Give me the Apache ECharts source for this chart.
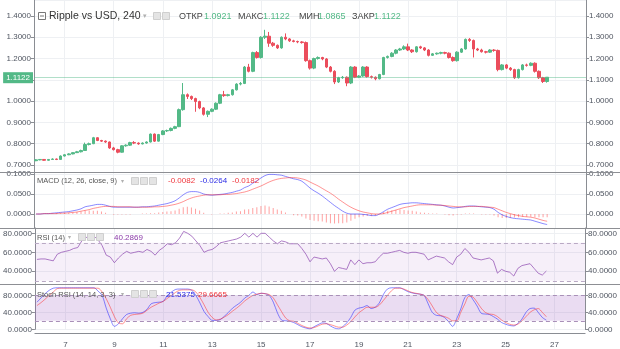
<!DOCTYPE html>
<html><head><meta charset="utf-8">
<script src="https://cdn.jsdelivr.net/npm/echarts@6/dist/echarts.min.js"></script>
<style>html,body{margin:0;padding:0;background:#fff}#c{width:620px;height:349px}</style>
</head><body><div id="c"></div>
<script>
// ---- data ----
const startDay = 5, startHour = 20, stepHours = 4, slotCount = 135;
const xTickLabels = ['7','9','11','13','15','17','19','21','23','25','27'];
// [open, close, low, high]
const ohlc = [
[0.720,0.724,0.718,0.727],[0.724,0.726,0.722,0.728],[0.726,0.722,0.720,0.728],[0.722,0.726,0.720,0.728],
[0.726,0.728,0.724,0.731],[0.728,0.726,0.723,0.730],[0.726,0.742,0.725,0.745],[0.742,0.748,0.740,0.751],
[0.748,0.752,0.746,0.755],[0.752,0.758,0.750,0.760],[0.758,0.762,0.756,0.766],[0.762,0.768,0.759,0.772],
[0.768,0.796,0.766,0.805],[0.796,0.800,0.792,0.805],[0.800,0.828,0.798,0.832],[0.828,0.815,0.812,0.830],
[0.815,0.812,0.808,0.818],[0.812,0.808,0.804,0.815],[0.808,0.780,0.776,0.810],[0.780,0.772,0.768,0.785],
[0.772,0.760,0.755,0.776],[0.760,0.790,0.758,0.793],[0.790,0.793,0.786,0.797],[0.793,0.805,0.790,0.809],
[0.805,0.803,0.798,0.812],[0.803,0.799,0.795,0.806],[0.799,0.803,0.797,0.806],[0.803,0.808,0.800,0.811],
[0.808,0.845,0.806,0.848],[0.845,0.812,0.808,0.848],[0.812,0.843,0.810,0.846],[0.843,0.860,0.840,0.864],
[0.860,0.862,0.855,0.866],[0.862,0.872,0.858,0.876],[0.872,0.880,0.868,0.884],[0.880,0.960,0.878,0.965],
[0.960,1.030,0.955,1.085],[1.030,1.022,1.010,1.036],[1.022,1.012,1.005,1.026],[1.012,0.998,0.950,1.016],
[0.998,0.968,0.962,1.002],[0.968,0.938,0.932,0.972],[0.938,0.952,0.925,0.956],[0.952,0.962,0.948,0.966],
[0.962,0.990,0.958,0.994],[0.990,1.030,0.986,1.034],[1.030,1.026,1.020,1.048],[1.026,1.030,1.022,1.034],
[1.030,1.053,1.026,1.057],[1.053,1.080,1.050,1.084],[1.080,1.083,1.074,1.090],[1.083,1.160,1.080,1.165],
[1.160,1.140,1.135,1.175],[1.140,1.228,1.136,1.232],[1.228,1.205,1.200,1.235],[1.205,1.300,1.200,1.305],
[1.300,1.305,1.292,1.335],[1.305,1.272,1.255,1.325],[1.272,1.262,1.255,1.278],[1.262,1.250,1.245,1.266],
[1.250,1.300,1.246,1.304],[1.300,1.292,1.286,1.318],[1.292,1.283,1.278,1.296],[1.283,1.280,1.276,1.288],
[1.280,1.278,1.272,1.284],[1.278,1.275,1.270,1.282],[1.275,1.190,1.185,1.280],[1.190,1.155,1.148,1.195],
[1.155,1.200,1.150,1.204],[1.200,1.205,1.195,1.210],[1.205,1.198,1.192,1.208],[1.198,1.160,1.155,1.202],
[1.160,1.140,1.135,1.165],[1.140,1.090,1.080,1.145],[1.090,1.110,1.085,1.114],[1.110,1.112,1.105,1.118],
[1.112,1.085,1.070,1.116],[1.085,1.160,1.080,1.164],[1.160,1.112,1.108,1.164],[1.112,1.118,1.108,1.122],
[1.118,1.160,1.114,1.164],[1.160,1.115,1.110,1.164],[1.115,1.112,1.106,1.120],[1.112,1.105,1.098,1.116],
[1.105,1.125,1.102,1.128],[1.125,1.205,1.122,1.208],[1.205,1.210,1.200,1.214],[1.210,1.225,1.206,1.230],
[1.225,1.240,1.220,1.244],[1.240,1.245,1.236,1.250],[1.245,1.255,1.240,1.262],[1.255,1.240,1.235,1.270],
[1.240,1.232,1.226,1.244],[1.232,1.255,1.228,1.258],[1.255,1.250,1.245,1.260],[1.250,1.240,1.235,1.254],
[1.240,1.215,1.210,1.244],[1.215,1.222,1.212,1.226],[1.222,1.225,1.218,1.228],[1.225,1.228,1.220,1.232],
[1.228,1.225,1.220,1.232],[1.225,1.205,1.200,1.229],[1.205,1.190,1.185,1.210],[1.190,1.230,1.186,1.234],
[1.230,1.245,1.226,1.249],[1.245,1.290,1.242,1.294],[1.290,1.285,1.278,1.296],[1.285,1.245,1.205,1.289],
[1.245,1.240,1.235,1.250],[1.240,1.232,1.228,1.246],[1.232,1.230,1.224,1.236],[1.230,1.240,1.226,1.244],
[1.240,1.238,1.232,1.244],[1.238,1.148,1.140,1.242],[1.148,1.170,1.144,1.174],[1.170,1.155,1.150,1.174],
[1.155,1.148,1.142,1.160],[1.148,1.110,1.104,1.152],[1.110,1.148,1.106,1.152],[1.148,1.170,1.144,1.174],
[1.170,1.168,1.162,1.176],[1.168,1.178,1.164,1.182],[1.178,1.140,1.134,1.182],[1.140,1.110,1.104,1.144],
[1.110,1.0921,1.085,1.114],[1.0921,1.1122,1.0865,1.1122]
];
const macdLine = [
0.000,0.000,0.001,0.001,0.002,0.003,0.004,0.005,0.006,0.008,
0.010,0.013,0.018,0.020,0.022,0.024,0.024,0.022,0.019,0.017,
0.017,0.017,0.017,0.017,0.017,0.017,0.018,0.018,0.019,0.020,
0.022,0.024,0.026,0.029,0.033,0.040,0.048,0.054,0.056,0.056,
0.054,0.050,0.048,0.047,0.048,0.049,0.050,0.052,0.054,0.057,
0.060,0.066,0.070,0.077,0.083,0.090,0.096,0.099,0.099,0.098,
0.097,0.094,0.091,0.088,0.086,0.082,0.074,0.065,0.058,0.052,
0.045,0.037,0.029,0.021,0.014,0.007,0.002,0.000,0.000,0.000,
-0.001,-0.002,-0.004,-0.004,0.000,0.006,0.012,0.016,0.020,0.024,
0.026,0.027,0.028,0.028,0.027,0.026,0.025,0.024,0.023,0.022,
0.020,0.017,0.015,0.016,0.017,0.019,0.020,0.020,0.019,0.018,
0.017,0.016,0.012,0.004,-0.002,-0.006,-0.009,-0.011,-0.012,-0.013,
-0.014,-0.015,-0.018,-0.021,-0.024,-0.0264];
const signalLine = [
0.000,0.000,0.001,0.001,0.001,0.001,0.002,0.002,0.003,0.004,
0.005,0.007,0.009,0.011,0.014,0.016,0.018,0.019,0.019,0.019,
0.018,0.018,0.018,0.018,0.017,0.017,0.017,0.017,0.017,0.018,
0.018,0.019,0.020,0.022,0.024,0.027,0.031,0.036,0.040,0.043,
0.045,0.047,0.048,0.048,0.048,0.048,0.049,0.049,0.050,0.051,
0.053,0.055,0.058,0.062,0.066,0.070,0.075,0.080,0.084,0.087,
0.089,0.090,0.091,0.091,0.090,0.088,0.085,0.080,0.075,0.070,
0.064,0.058,0.052,0.045,0.037,0.030,0.023,0.017,0.012,0.008,
0.005,0.003,0.001,0.000,0.000,0.001,0.004,0.007,0.010,0.013,
0.016,0.018,0.020,0.022,0.023,0.023,0.023,0.023,0.022,0.022,
0.021,0.020,0.019,0.018,0.018,0.018,0.019,0.019,0.019,0.019,
0.018,0.017,0.016,0.012,0.008,0.004,0.001,-0.002,-0.004,-0.006,
-0.007,-0.008,-0.010,-0.013,-0.016,-0.0182];
const macdHist = [
0,0,0,0,0.001,0.002,0.002,0.003,0.003,0.004,
0.005,0.006,0.009,0.009,0.008,0.008,0.006,0.003,0.000,-0.002,
-0.001,-0.001,-0.001,-0.001,0,0,0.001,0.001,0.002,0.002,
0.004,0.005,0.006,0.007,0.009,0.013,0.017,0.018,0.016,0.013,
0.009,0.003,0.000,-0.001,0.000,0.001,0.001,0.003,0.004,0.006,
0.007,0.011,0.012,0.015,0.017,0.020,0.021,0.019,0.015,0.011,
0.008,0.004,0.000,-0.003,-0.004,-0.006,-0.011,-0.015,-0.017,-0.018,
-0.019,-0.021,-0.023,-0.024,-0.023,-0.023,-0.021,-0.017,-0.012,-0.008,
-0.006,-0.005,-0.005,-0.004,0.000,0.005,0.008,0.009,0.010,0.011,
0.010,0.009,0.008,0.006,0.004,0.003,0.002,0.001,0.001,0.000,
-0.001,-0.003,-0.004,-0.002,-0.001,0.001,0.001,0.001,0.000,-0.001,
-0.001,-0.001,-0.004,-0.008,-0.010,-0.010,-0.010,-0.009,-0.008,-0.007,
-0.007,-0.007,-0.008,-0.008,-0.008,-0.0082];
const rsi = [
52.5,53,53,52,51,58,60,61,62,64,
65,72,76,74,77,73,67,57,55,49,
54,58,61,59,60,61,60,63,61,57,
62,65,69,68,70,75,82,80,77,72,
67,60,62,63,66,70,71,72,73,74,
76,80,76,80,76,80,80,76,72,69,
72,71,69,69,69,64,58,50,55,54,
53,54,48,40,44,43,42,52,47,52,
48,49,49,50,55,59,59,60,61,62,
60,59,60,60,59,58,52,54,56,55,
54,50,47,55,58,64,60,54,53,52,
53,54,51,38,42,40,39,35,43,46,
47,48,43,38,36,40.2869];
const stochK = [
64,74,84,92,97,98,98,98,98,98,
98,98,98,98,98,90,80,50,25,7,
13,25,35,38,39,38,40,47,60,63,
64,66,80,88,94,95,95,95,92,80,
62,42,30,21,21,23,31,40,50,57,
64,74,80,88,82,85,84,80,64,39,
22,20,19,16,11,6,3,1,6,11,
15,14,8,3,1,6,15,28,45,50,
52,56,49,52,62,82,95,98,98,98,
94,89,86,84,83,80,60,40,33,32,
28,18,7,25,48,75,82,70,55,38,
36,35,30,24,16,12,9,8,14,24,
40,49,50,40,28,21.5375];
const stochD = [
56,63,71,80,88,96,97,97,97,97,
97,97,97,97,97,97,88,72,52,30,
15,13,25,33,35,36,38,45,52,57,
62,66,73,80,87,92,93,93,93,88,
75,58,40,28,22,24,29,35,43,50,
58,67,74,80,83,85,84,82,74,58,
42,27,20,19,14,9,5,3,4,8,
12,13,11,8,5,5,10,18,29,39,
46,52,52,52,57,68,80,91,97,97,
95,91,87,85,83,80,70,55,40,33,
30,26,20,20,40,60,78,76,64,50,
40,36,35,30,22,16,12,10,12,20,
30,40,46,49,40,29.6665];
const rsiBand = [30, 70];
const stochBand = [20, 80];

// ---- build ----
const categories = [];
for (let i = 0; i < slotCount; i++) {
  const h = startHour + stepHours * i;
  const d = startDay + Math.floor(h / 24);
  const hh = h % 24;
  categories.push(d + ' ' + String(hh).padStart(2, '0') + ':00');
}
const isTick = (idx) => {
  const p = categories[idx].split(' ');
  return p[1] === '00:00' && xTickLabels.indexOf(p[0]) >= 0;
};
const FONT = 'Liberation Sans, Arial, sans-serif';
const UP = '#53b987', DOWN = '#eb4d5c';
const AX = '#8a8d93', LBL = '#4f5560', GRIDC = '#eef0f3';
const last = ohlc[ohlc.length - 1];
const lastClose = last[1];
const f4 = v => Number(v).toFixed(4);

const grids = [
  {left: 34, right: 34, top: 0, height: 172},
  {left: 34, right: 34, top: 172, height: 56},
  {left: 34, right: 34, top: 228, height: 56},
  {left: 34, right: 34, top: 284, height: 54.3}
];
const xAxes = grids.map((g, gi) => ({
  type: 'category', gridIndex: gi, data: categories, boundaryGap: true,
  axisLine: {show: gi === 3, onZero: false, lineStyle: {color: AX}},
  offset: gi === 3 ? 3.7 : 0,
  axisTick: {show: false},
  axisLabel: {show: gi === 3, interval: isTick, formatter: v => v.split(' ')[0], color: LBL, fontSize: 8, margin: 8, fontFamily: FONT},
  splitLine: {show: true, interval: isTick, alignWithLabel: true, lineStyle: {color: GRIDC}}
}));
function yPair(gi, opt, showMin) {
  const mk = (pos) => Object.assign({
    type: 'value', gridIndex: gi, position: pos, scale: true,
    axisLine: {show: true, lineStyle: {color: AX}},
    axisTick: {show: true, length: 3, lineStyle: {color: AX}},
    axisLabel: {color: LBL, fontSize: 8, margin: 3, fontFamily: FONT, formatter: f4, showMinLabel: showMin, showMaxLabel: false},
    splitLine: {show: pos === 'left', lineStyle: {color: GRIDC}}
  }, opt);
  return [mk('left'), mk('right')];
}
const yAxes = [].concat(
  yPair(0, {min: 0.667, max: 1.475, splitNumber: 8}, false),
  yPair(1, {min: -0.035, max: 0.105, splitNumber: 3}, false),
  yPair(2, {min: 26.6, max: 85.6, splitNumber: 3}, false),
  yPair(3, {min: 0, max: 106.9, interval: 40}, true)
);

const series = [
  {
    type: 'candlestick', xAxisIndex: 0, yAxisIndex: 0, data: ohlc, barWidth: 3,
    itemStyle: {color: UP, color0: DOWN, borderColor: UP, borderColor0: DOWN, borderWidth: 1},
    markLine: {
      silent: true, symbol: ['none', 'none'], animation: false,
      lineStyle: {color: 'rgba(83,185,135,0.45)', type: 'solid', width: 1},
      data: [
        {yAxis: lastClose, label: {show: true, position: 'start', distance: 1, formatter: f4(lastClose), backgroundColor: UP, color: '#fff', fontSize: 8, fontFamily: FONT, padding: [2, 3, 1, 3]}},
        {yAxis: lastClose, lineStyle: {opacity: 0}, label: {show: true, position: 'end', distance: 1, formatter: f4(lastClose), backgroundColor: UP, color: '#fff', fontSize: 8, fontFamily: FONT, padding: [2, 3, 1, 3]}}
      ]
    }
  },
  {type: 'bar', xAxisIndex: 1, yAxisIndex: 2, data: macdHist, barWidth: 1, itemStyle: {color: 'rgba(255,70,70,0.5)'}},
  {type: 'line', xAxisIndex: 1, yAxisIndex: 2, data: macdLine, showSymbol: false, smooth: 0.3, lineStyle: {color: 'rgba(40,40,255,0.55)', width: 1}},
  {type: 'line', xAxisIndex: 1, yAxisIndex: 2, data: signalLine, showSymbol: false, smooth: 0.3, lineStyle: {color: 'rgba(255,40,40,0.5)', width: 1}},
  {
    type: 'line', xAxisIndex: 2, yAxisIndex: 4, data: rsi, showSymbol: false, lineStyle: {color: 'rgba(140,70,175,0.7)', width: 1},
    markArea: {silent: true, itemStyle: {color: 'rgba(150,80,190,0.09)'}, data: [[{yAxis: rsiBand[0]}, {yAxis: rsiBand[1]}]]},
    markLine: {silent: true, symbol: ['none', 'none'], label: {show: false}, lineStyle: {color: '#b9a9c4', type: [4, 3], width: 1}, data: [{yAxis: rsiBand[1]}, {yAxis: rsiBand[0]}]}
  },
  {
    type: 'line', xAxisIndex: 3, yAxisIndex: 6, data: stochK, showSymbol: false, smooth: 0.3, lineStyle: {color: 'rgba(40,40,255,0.55)', width: 1},
    markArea: {silent: true, itemStyle: {color: 'rgba(150,80,190,0.2)'}, data: [[{yAxis: stochBand[0]}, {yAxis: stochBand[1]}]]},
    markLine: {silent: true, symbol: ['none', 'none'], label: {show: false}, lineStyle: {color: '#a990b8', type: [4, 3], width: 1}, data: [{yAxis: stochBand[1]}, {yAxis: stochBand[0]}]}
  },
  {type: 'line', xAxisIndex: 3, yAxisIndex: 6, data: stochD, showSymbol: false, smooth: 0.3, lineStyle: {color: 'rgba(255,40,40,0.5)', width: 1}}
];

// ---- overlay texts (legends) ----
const T = (x, y, text, fill, size) => ({type: 'text', x: x, y: y, silent: true, z: 100,
  style: {text: text, fill: fill, fontSize: size, fontFamily: FONT, verticalAlign: 'middle'}});
const icon = (x, y) => ({type: 'rect', silent: true, z: 100, shape: {x: x, y: y, width: 7, height: 7}, style: {fill: '#e4e4e4', stroke: '#cfcfcf', lineWidth: 1}});
const sep = (y) => ({type: 'line', silent: true, z: 50, shape: {x1: 0, y1: y, x2: 620, y2: y}, style: {stroke: '#8d8f94', lineWidth: 1}});
const n = macdLine.length - 1;
const graphic = [
  sep(172.5), sep(228.5), sep(284.5),
  {type: 'rect', silent: true, z: 100, shape: {x: 38.5, y: 12.5, width: 7, height: 7}, style: {fill: '#fff', stroke: '#777', lineWidth: 1}},
  {type: 'line', silent: true, z: 101, shape: {x1: 40, y1: 16, x2: 44, y2: 16}, style: {stroke: '#777', lineWidth: 1}},
  T(49, 16.5, 'Ripple vs USD, 240', '#333', 10.5),
  T(143, 16.5, '▾', '#b0b0b0', 7),
  icon(153.5, 12.5), icon(162.5, 12.5),
  T(179, 16.5, 'ОТКР', '#444', 9), T(204, 16.5, f4(last[0]), UP, 9),
  T(238, 16.5, 'МАКС', '#444', 9), T(263, 16.5, f4(last[3]), UP, 9),
  T(299, 16.5, 'МИН', '#444', 9), T(318, 16.5, f4(last[2]), UP, 9),
  T(352, 16.5, 'ЗАКР', '#444', 9), T(374, 16.5, f4(last[1]), UP, 9),

  T(37, 181, 'MACD (12, 26, close, 9)', '#555', 7.5),
  T(121, 181, '▾', '#b0b0b0', 6),
  icon(131.5, 177.5), icon(140.5, 177.5), icon(149.5, 177.5),
  T(168, 181, f4(macdHist[n]), '#f0363c', 8),
  T(200, 181, f4(macdLine[n]), '#2a2ae6', 8),
  T(232, 181, f4(signalLine[n]), '#f0363c', 8),

  T(37, 237.5, 'RSI (14)', '#555', 7.5),
  T(68, 237.5, '▾', '#b0b0b0', 6),
  icon(78.5, 233.5), icon(87.5, 233.5), icon(96.5, 233.5),
  T(114, 237.5, f4(rsi[n]), '#8a3aa8', 8),

  T(37, 294.5, 'Stoch RSI (14, 14, 3, 3)', '#555', 7.5),
  T(121, 294.5, '▾', '#b0b0b0', 6),
  icon(131.5, 290.5), icon(140.5, 290.5), icon(149.5, 290.5),
  T(166, 294.5, f4(stochK[n]), '#2a2ae6', 8),
  T(198, 294.5, f4(stochD[n]), '#f0363c', 8)
];

const chart = echarts.init(document.getElementById('c'), null, {renderer: 'canvas'});
chart.setOption({
  animation: false,
  backgroundColor: '#fff',
  textStyle: {fontFamily: FONT},
  grid: grids,
  xAxis: xAxes,
  yAxis: yAxes,
  series: series,
  graphic: graphic
});
</script>
</body></html>
